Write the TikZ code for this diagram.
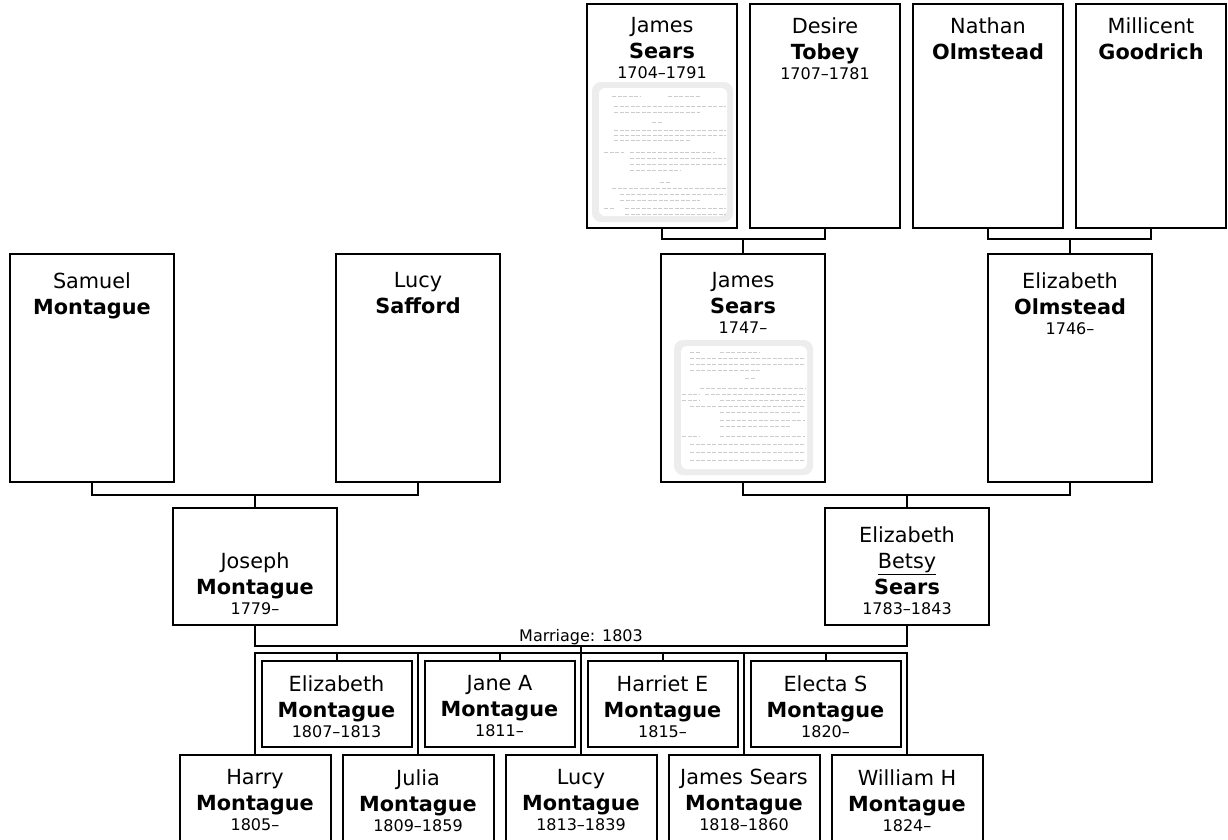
\documentclass[tikz,border=0pt]{standalone}
\usepackage{fontspec}
\setmainfont{DejaVu Sans}
\usetikzlibrary{positioning,calc}

\newcommand\nm{\fontsize{20.8}{26}\selectfont}
\newcommand\sm{\fontsize{16}{19}\selectfont}
\newcommand\yr[1]{{\sm #1}}

\begin{document}
\begin{tikzpicture}[x=1pt, y=-1pt,
    box/.style={rectangle, draw, line width=2pt, inner sep=0pt},
    elder/.style={box, minimum width=150pt, minimum height=224pt},
    grand/.style={box, minimum width=164pt, minimum height=228pt},
    parent/.style={box, minimum width=164pt, minimum height=117pt},
    child/.style={box, minimum width=150pt, minimum height=86pt},
    lowchild/.style={box, minimum width=151pt, minimum height=130pt},
    names/.style={anchor=north, align=center, inner sep=0pt, font=\nm, yshift=#1},
    names/.default=-15pt,
    link/.style={line width=2pt},
    scan/.style={gray!40, line width=1pt, dash pattern=on 4pt off 1.5pt}
]
    \useasboundingbox (0,0) rectangle (1228,839);
    \clip (0,0) rectangle (1228,839);
    \fill[white] (0,0) rectangle (1228,839);

    % Arriere-grands-parents
    \node[elder, label={[names=-14pt]north:{James\\\textbf{Sears}\\[-6pt]\yr{1704–1791}}}] (jsearsA) at (662,116) {};
    \node[elder, label={[names=-14pt]north:{Desire\\\textbf{Tobey}\\[-6pt]\yr{1707–1781}}}] (dtobey) at (825,116) {};
    \node[elder, label={[names=-14pt]north:{Nathan\\\textbf{Olmstead}}}] (nolmstead) at (988,116) {};
    \node[elder, label={[names=-14pt]north:{Millicent\\\textbf{Goodrich}}}] (mgoodrich) at (1151,116) {};

    % Grands-parents
    \node[grand, label={[names=-19pt]north:{Samuel\\\textbf{Montague}}}] (smontague) at (92,368) {};
    \node[grand, label={[names=-19pt]north:{Lucy\\\textbf{Safford}}}] (lsafford) at (418,368) {};
    \node[grand, label={[names=-19pt]north:{James\\\textbf{Sears}\\[-6pt]\yr{1747–}}}] (jsearsB) at (743,368) {};
    \node[grand, label={[names=-19pt]north:{Elizabeth\\\textbf{Olmstead}\\[-6pt]\yr{1746–}}}] (eolmstead) at (1070,368) {};

    % Parents
    \node[parent, label={[names=-45pt]north:{Joseph\\\textbf{Montague}\\[-6pt]\yr{1779–}}}] (jmontague) at (255,566.5) {};
    \node[parent, label={[names=-19pt]north:{Elizabeth\\\underline{Betsy}\\\textbf{Sears}\\[-6pt]\yr{1783–1843}}}] (ebsears) at (907,566.5) {};

    % Enfants
    \node[child, label={[names]north:{Elizabeth\\\textbf{Montague}\\[-6pt]\yr{1807–1813}}}] (eliz) at (336.5,704) {};
    \node[child, label={[names]north:{Jane A\\\textbf{Montague}\\[-6pt]\yr{1811–}}}] (jane) at (499.5,704) {};
    \node[child, label={[names]north:{Harriet E\\\textbf{Montague}\\[-6pt]\yr{1815–}}}] (harriet) at (662.5,704) {};
    \node[child, label={[names]north:{Electa S\\\textbf{Montague}\\[-6pt]\yr{1820–}}}] (electa) at (825.5,704) {};
    \node[lowchild, label={[names]north:{Harry\\\textbf{Montague}\\[-6pt]\yr{1805–}}}] (harry) at (255,820) {};
    \node[lowchild, label={[names]north:{Julia\\\textbf{Montague}\\[-6pt]\yr{1809–1859}}}] (julia) at (418,820) {};
    \node[lowchild, label={[names]north:{Lucy\\\textbf{Montague}\\[-6pt]\yr{1813–1839}}}] (lucy) at (581,820) {};
    \node[lowchild, label={[names]north:{James Sears\\\textbf{Montague}\\[-6pt]\yr{1818–1860}}}] (jamess) at (744,820) {};
    \node[lowchild, label={[names]north:{William H\\\textbf{Montague}\\[-6pt]\yr{1824–}}}] (william) at (907,820) {};

    % Documents scannes
    \fill[gray!14, rounded corners=9pt] (592,82) rectangle (733,222);
    \fill[white, rounded corners=6pt] (599,88) rectangle (727,216);
    \foreach \y/\a/\b in {96/612/640, 96/668/700, 106/614/726, 112/614/700, 122/652/662,
        130/614/726, 135/614/726, 140/614/690, 152/604/624, 152/630/715, 158/630/726,
        164/630/726, 170/630/680, 182/660/670, 188/612/726, 194/620/726, 200/620/700,
        208/604/614, 208/625/726, 214/625/726}
        \draw[scan] (\a,\y) -- (\b,\y);
    \fill[gray!14, rounded corners=9pt] (674,340) rectangle (813,475);
    \fill[white, rounded corners=6pt] (681,346) rectangle (807,469);
    \foreach \y/\a/\b in {352/690/700, 352/720/760, 358/690/805, 364/690/805, 370/690/760,
        378/745/755, 388/700/805, 394/682/700, 394/705/805, 400/682/700, 400/720/805,
        406/690/805, 412/720/800, 420/720/805, 426/720/790, 436/682/700, 436/720/805,
        444/690/805, 452/690/805, 460/690/805}
        \draw[scan] (\a,\y) -- (\b,\y);

    % Liens
    \coordinate (topL) at (743,239);
    \coordinate (topR) at (1070,239);
    \coordinate (midL) at (255,495);
    \coordinate (midR) at (907,495);
    \coordinate (wed) at (581,646);
    \coordinate (kids) at (581,653);

    \draw[link] (jsearsA.south) |- (topL) -| (dtobey.south);
    \draw[link] (topL) -- (jsearsB.north);
    \draw[link] (nolmstead.south) |- (topR) -| (mgoodrich.south);
    \draw[link] (topR) -- (eolmstead.north);
    \draw[link] (smontague.south) |- (midL) -| (lsafford.south);
    \draw[link] (midL) -- (jmontague.north);
    \draw[link] (jsearsB.south) |- (midR) -| (eolmstead.south);
    \draw[link] (midR) -- (ebsears.north);

    \draw[link] (jmontague.south) |- (wed) -| (ebsears.south);
    \node[anchor=base, inner sep=0pt, font=\sm] (marriage) at (581,641) {Marriage: 1803};
    \draw[link] (wed) -- (lucy.north);
    \draw[link] (harry.north) |- (kids) -| (william.north);
    \foreach \k in {eliz,jane,julia,harriet,jamess,electa}
        \draw[link] (\k.north) -- (\k.north |- kids);

\end{tikzpicture}
\end{document}
